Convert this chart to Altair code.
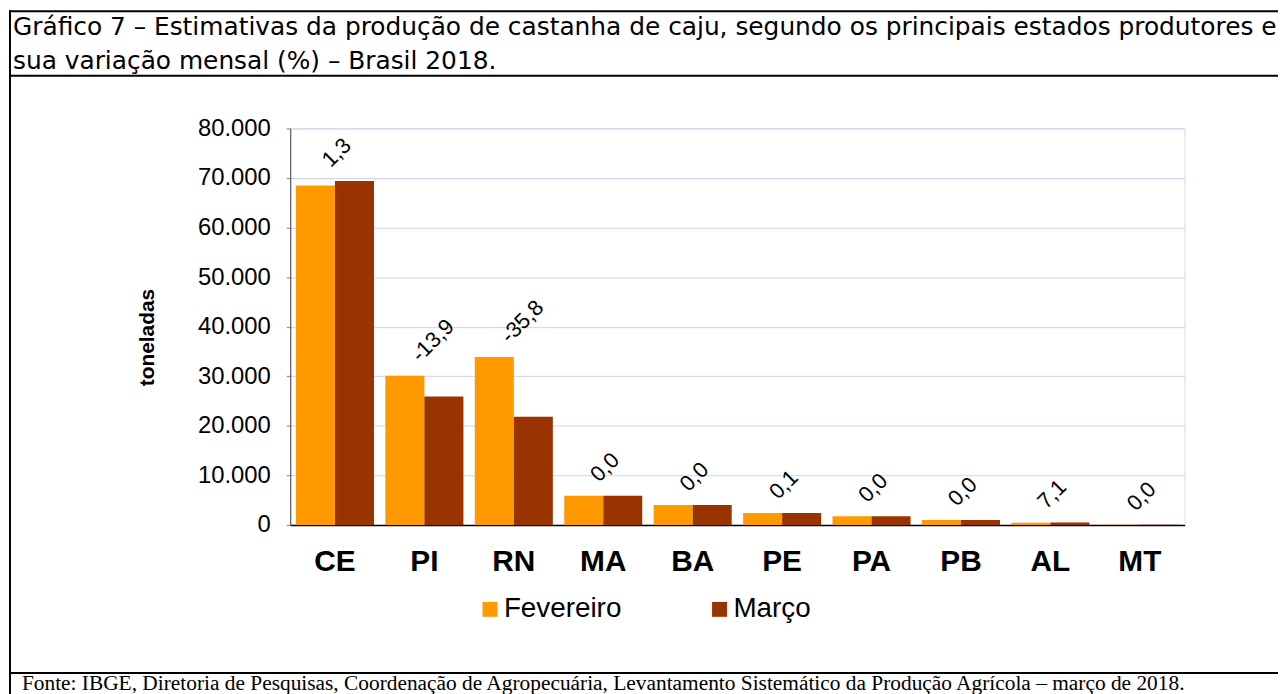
import altair as alt
import pandas as pd

# ---- data ----
states = ["CE", "PI", "RN", "MA", "BA", "PE", "PA", "PB", "AL", "MT"]
fevereiro = [68500, 30100, 33900, 5900, 4000, 2400, 1750, 1000, 450, 40]
marco = [69400, 25900, 21800, 5900, 4000, 2400, 1750, 1000, 480, 40]
variacao = [1.3, -13.9, -35.8, 0.0, 0.0, 0.1, 0.0, 0.0, 7.1, 0.0]
series = ["Fevereiro", "Março"]
colors = ["#FF9900", "#993300"]
y_ticks = [0, 10000, 20000, 30000, 40000, 50000, 60000, 70000, 80000]

title_l1 = "Gráfico 7 – Estimativas da produção de castanha de caju, segundo os principais estados produtores e"
title_l2 = "sua variação mensal (%) – Brasil 2018."
fonte = "Fonte: IBGE, Diretoria de Pesquisas, Coordenação de Agropecuária, Levantamento Sistemático da Produção Agrícola – março de 2018."

rows = []
for s, f, m in zip(states, fevereiro, marco):
    rows.append({"estado": s, "mes": series[0], "valor": f})
    rows.append({"estado": s, "mes": series[1], "valor": m})
df = pd.DataFrame(rows)

df_lab = pd.DataFrame({
    "estado": states,
    "topo": [max(f, m) for f, m in zip(fevereiro, marco)],
    "rotulo": [f"{v:.1f}".replace(".", ",") for v in variacao],
})

SANS = "Liberation Sans"
xscale = alt.Scale(domain=states, paddingInner=0.1275, paddingOuter=0.064)
yscale = alt.Scale(domain=[0, 80000], nice=False)

bars = alt.Chart(df).mark_bar(stroke=None).encode(
    x=alt.X("estado:N", sort=states, scale=xscale,
            axis=alt.Axis(title=None, labelAngle=0, labelFont=SANS, labelFontSize=30,
                          labelFontWeight="bold", labelColor="black", labelPadding=22,
                          ticks=False, domainColor="black", domainWidth=1.5)),
    xOffset=alt.XOffset("mes:N", sort=series, scale=alt.Scale(paddingInner=0, paddingOuter=0)),
    y=alt.Y("valor:Q", scale=yscale,
            axis=alt.Axis(title="toneladas", values=y_ticks,
                          labelExpr="replace(format(datum.value, ','), ',', '.')",
                          labelFont=SANS, labelFontSize=24, labelColor="black",
                          labelPadding=16, tickSize=4, tickColor="#808080",
                          domainColor="#404040", grid=True, gridColor="#CFCFF7",
                          titleFont=SANS, titleFontSize=21, titleFontWeight="bold",
                          titleColor="black", titleAngle=270, titleX=-144, titleY=210,
                          titleAlign="center", titleBaseline="middle")),
    color=alt.Color("mes:N", sort=series,
                    scale=alt.Scale(domain=series, range=colors),
                    legend=alt.Legend(title=None, orient="none", legendX=187, legendY=470,
                                      direction="horizontal", symbolType="square",
                                      symbolSize=225, symbolStrokeWidth=0,
                                      labelFont=SANS, labelFontSize=28, labelColor="black",
                                      labelOffset=0, columnPadding=84, padding=0)),
)

labels = alt.Chart(df_lab).mark_text(
    angle=315, align="left", baseline="middle", dx=6, dy=-19,
    font=SANS, fontSize=22, color="black"
).encode(
    x=alt.X("estado:N", sort=states, scale=xscale),
    y=alt.Y("topo:Q", scale=yscale),
    text="rotulo:N",
)

one = alt.Data(values=[{"k": 1}])

def hline(y, x1=-283, x2=1000, w=2):
    return alt.Chart(one).mark_rule(color="black", strokeWidth=w).encode(
        x=alt.value(x1), x2=alt.value(x2), y=alt.value(y))

top_line = hline(-118)
title_sep = hline(-53)
foot_sep = hline(548)
left_line = alt.Chart(one).mark_rule(color="black", strokeWidth=2).encode(
    x=alt.value(-282), y=alt.value(-119), y2=alt.value(580))

def text_at(txt, x, y, font, size):
    return alt.Chart(one).mark_text(align="left", baseline="alphabetic", font=font,
                                    fontSize=size, color="black").encode(
        x=alt.value(x), y=alt.value(y), text=alt.value(txt))

t1 = text_at(title_l1, -279, -94, "DejaVu Sans", 25)
t2 = text_at(title_l2, -279, -60, "DejaVu Sans", 25)
ft = text_at(fonte, -270, 565, "Liberation Serif", 21.5)

chart = alt.layer(
    bars, labels, top_line, title_sep, foot_sep, left_line, t1, t2, ft
).properties(
    width=900, height=399,
    autosize=alt.AutoSizeParams(type="none"),
    padding={"left": 284, "top": 119, "right": 94, "bottom": 168},
).configure_view(stroke="#808080", strokeWidth=1).configure(background="white")

chart.save("out.html", embed_options={"renderer": "svg", "actions": False})
